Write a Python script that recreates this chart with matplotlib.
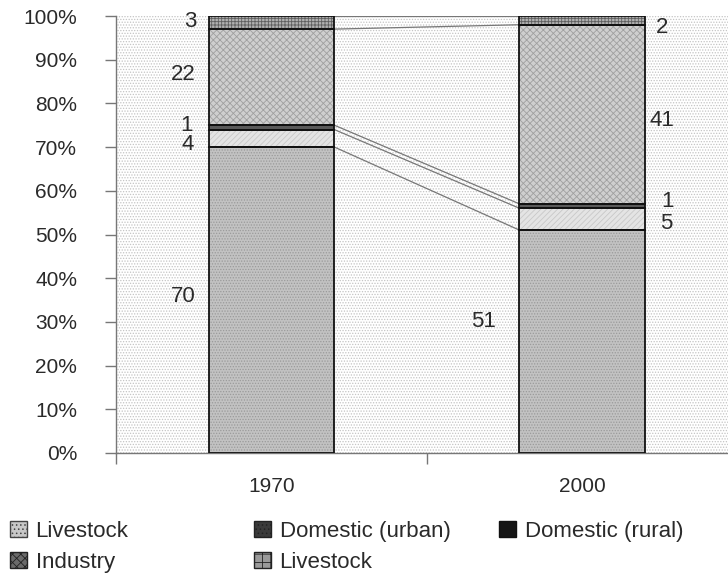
import matplotlib
matplotlib.use("Agg")
import matplotlib.pyplot as plt
from matplotlib.patches import Patch, Rectangle
import numpy as np

plt.rcParams['font.family'] = ['Liberation Sans', 'DejaVu Sans']
plt.rcParams['hatch.linewidth'] = 0.6

# ---------------- data ----------------
years = ["1970", "2000"]
series_names = ["Livestock", "Domestic (urban)", "Domestic (rural)", "Industry", "Livestock"]
livestock_low = [70, 51]
domestic_urban = [4, 5]
domestic_rural = [1, 1]
industry = [22, 41]
livestock_top = [3, 2]
yticks = [0, 10, 20, 30, 40, 50, 60, 70, 80, 90, 100]

series = [livestock_low, domestic_urban, domestic_rural, industry, livestock_top]

# ---------------- styles ----------------
styles = [
    dict(face="#c2c2c2", hatch="......", hcolor="#9a9a9a"),
    dict(face="#e4e4e4", hatch="//////", hcolor="#c8c8c8"),
    dict(face="#5a5a5a", hatch="", hcolor="#5a5a5a"),
    dict(face="#cfcfcf", hatch="xxxxx", hcolor="#a0a0a0"),
    dict(face="#b0b0b0", hatch="+++++", hcolor="#5e5e5e"),
]
legend_styles = [
    dict(face="#c8c8c8", hatch="....", edge="#444444"),
    dict(face="#3a3a3a", hatch="....", edge="#222222"),
    dict(face="#151515", hatch="", edge="#111111"),
    dict(face="#6a6a6a", hatch="xxxx", edge="#222222"),
    dict(face="#9a9a9a", hatch="++", edge="#222222"),
]

W, H = 7.28, 5.76
fig = plt.figure(figsize=(W, H), dpi=100)
ax = fig.add_axes([116 / 728, 123 / 576, 612 / 728, 437 / 576])

# dotted plot-area background
ax.set_facecolor("white")
ax.add_patch(Rectangle((0, 0), 1, 1, transform=ax.transAxes, facecolor="white",
                       hatch="......", edgecolor="#c4c4c4", linewidth=0, zorder=0))

x = np.arange(len(years))
width = 0.405
bottom = np.zeros(len(years))
tops = []
for vals, st in zip(series, styles):
    v = np.array(vals, dtype=float)
    ax.bar(x, v, width, bottom=bottom, color=st["face"], hatch=st["hatch"],
           edgecolor=st["hcolor"], linewidth=0, zorder=2)
    ax.bar(x, v, width, bottom=bottom, fill=False, edgecolor="#111111",
           linewidth=1.3, zorder=3)
    bottom = bottom + v
    tops.append(bottom.copy())

# series lines between bars
for t in tops:
    ax.plot([x[0] + width / 2, x[1] - width / 2], [t[0], t[1]],
            color="#777777", linewidth=0.9, zorder=2)

# value labels (layout: label anchors)
lab_kw = dict(fontsize=16, color="#2a2a2a", va="center", zorder=4)
left_1970 = x[0] - width / 2 - 0.04
ax.text(left_1970, 35.7, str(livestock_low[0]), ha="right", **lab_kw)
ax.text(left_1970 - 0.008, 70.6, str(domestic_urban[0]), ha="right", **lab_kw)
ax.text(left_1970 - 0.01, 75.0, str(domestic_rural[0]), ha="right", **lab_kw)
ax.text(left_1970, 86.5, str(industry[0]), ha="right", **lab_kw)
ax.text(left_1970, 98.7, str(livestock_top[0]), ha="right", **lab_kw)

left_2000 = x[1] - width / 2 - 0.077
right_2000 = x[1] + width / 2 + 0.012
ax.text(left_2000, 30.1, str(livestock_low[1]), ha="right", **lab_kw)
ax.text(right_2000 + 0.035, 52.5, str(domestic_urban[1]), ha="left", **lab_kw)
ax.text(right_2000 + 0.04, 57.5, str(domestic_rural[1]), ha="left", **lab_kw)
ax.text(right_2000, 76.0, str(industry[1]), ha="left", **lab_kw)
ax.text(right_2000 + 0.02, 97.4, str(livestock_top[1]), ha="left", **lab_kw)

# axes
ax.set_xlim(-0.5, 1.468)
ax.set_ylim(0, 100)
ax.set_yticks(yticks)
ax.set_yticklabels([f"{v}%" for v in yticks])
ax.set_xticks([-0.5, 0.5])
ax.set_xticklabels(["", ""])
ax.set_xticks(x, minor=True)
ax.set_xticklabels(years, minor=True)
ax.tick_params(axis="x", which="major", length=8, color="#777777", width=1)
ax.tick_params(axis="x", which="minor", length=0, pad=17, labelsize=15, labelcolor="#2a2a2a")
ax.tick_params(axis="y", length=8, color="#777777", width=1, pad=20,
               labelsize=15, labelcolor="#2a2a2a")
for s in ["top", "right"]:
    ax.spines[s].set_visible(False)
for s in ["left", "bottom"]:
    ax.spines[s].set_color("#777777")
    ax.spines[s].set_linewidth(1.0)

# legend (three columns, row-major order as in reference)
handles = [Patch(facecolor=st["face"], hatch=st["hatch"], edgecolor=st["edge"],
                 linewidth=1.0) for st in legend_styles]
leg_kw = dict(frameon=False, fontsize=16, handlelength=0.75, handleheight=0.75,
              handletextpad=0.4, labelspacing=0.45, borderpad=0, borderaxespad=0,
              loc="upper left")
cols = [[0, 3], [1, 4], [2]]
col_x = [10 / 728, 254 / 728, 499 / 728]
for cx, idx in zip(col_x, cols):
    lg = fig.legend([handles[i] for i in idx], [series_names[i] for i in idx],
                    bbox_to_anchor=(cx, 1 - 521 / 576), **leg_kw)
    for t in lg.get_texts():
        t.set_color("#2a2a2a")

fig.savefig("out.png", dpi=100)
